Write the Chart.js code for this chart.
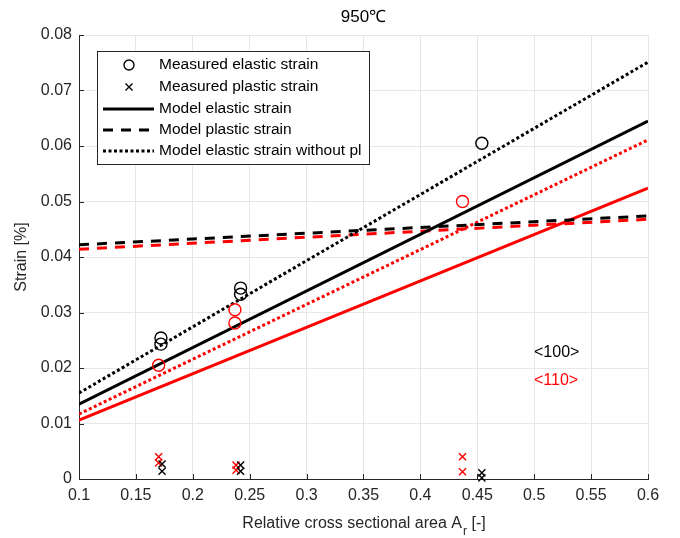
<!DOCTYPE html>
<html>
<head>
<meta charset="utf-8">
<script src="https://cdn.jsdelivr.net/npm/chart.js@4/dist/chart.umd.min.js"></script>
<style>
  body { margin: 0; background: #fff; }
  #chart { display: block; }
</style>
</head>
<body>
<canvas id="chart" width="680" height="538"></canvas>
<script>
// measured points, <100> orientation (black)
const elastic100 = [
    { x: 0.172, y: 0.0254 }, { x: 0.172, y: 0.0243 },
    { x: 0.242, y: 0.0344 }, { x: 0.242, y: 0.0333 },
    { x: 0.454, y: 0.0605 }
];
const plastic100 = [
    { x: 0.173, y: 0.0027 }, { x: 0.173, y: 0.0014 },
    { x: 0.242, y: 0.0025 }, { x: 0.242, y: 0.0014 },
    { x: 0.454, y: 0.0011 }, { x: 0.454, y: 0.0002 }
];

// measured points, <110> orientation (red)
const elastic110 = [
    { x: 0.170, y: 0.0205 },
    { x: 0.237, y: 0.0305 }, { x: 0.237, y: 0.0281 },
    { x: 0.437, y: 0.0500 }
];
const plastic110 = [
    { x: 0.170, y: 0.0040 }, { x: 0.170, y: 0.0029 },
    { x: 0.238, y: 0.0025 }, { x: 0.238, y: 0.0016 },
    { x: 0.437, y: 0.0040 }, { x: 0.437, y: 0.0013 }
];

// model lines, end points at Ar = 0.1 and 0.6
const modelX = [0.1, 0.6];
const modelElastic100 = [0.0135, 0.0645];
const modelPlastic100 = [0.0422, 0.0474];
const modelNoPl100 = [0.0155, 0.0751];
const modelElastic110 = [0.0106, 0.0524];
const modelPlastic110 = [0.0414, 0.0468];
const modelNoPl110 = [0.0117, 0.0611];

const xTicks = [0.1, 0.15, 0.2, 0.25, 0.3, 0.35, 0.4, 0.45, 0.5, 0.55, 0.6];
const yTicks = [0, 0.01, 0.02, 0.03, 0.04, 0.05, 0.06, 0.07, 0.08];

const legendLabels = ['Measured elastic strain', 'Measured plastic strain', 'Model elastic strain',
    'Model plastic strain', 'Model elastic strain without pl'];
const orientationLabels = ['<100>', '<110>'];

const RED = '#ff0000';
const BLACK = '#000000';
const FONT = '"Liberation Sans", Arial, sans-serif';

function toPoints(ys) {
    return modelX.map((x, i) => ({ x: x, y: ys[i] }));
}

function lineSet(ys, color, dash) {
    return {
        type: 'line',
        data: toPoints(ys),
        borderColor: color,
        borderWidth: 3,
        borderDash: dash,
        pointRadius: 0,
        fill: false,
        order: 2
    };
}

function markerSet(pts, color, style, r) {
    return {
        type: 'scatter',
        data: pts,
        borderColor: color,
        backgroundColor: 'rgba(0,0,0,0)',
        pointStyle: style,
        pointRadius: r,
        pointBorderWidth: 1.4,
        clip: false,
        order: 1
    };
}

// axis titles, main title, inward ticks, legend box and orientation labels
const decorations = {
    id: 'decorations',
    beforeDatasetsDraw(chart) {
        const { ctx, chartArea: a, scales } = chart;
        ctx.save();
        ctx.strokeStyle = '#262626';
        ctx.lineWidth = 1;
        ctx.beginPath();
        xTicks.forEach(v => {
            const px = Math.round(scales.x.getPixelForValue(v)) + 0.5;
            ctx.moveTo(px, a.bottom);
            ctx.lineTo(px, a.bottom - 5);
        });
        yTicks.forEach(v => {
            const py = Math.round(scales.y.getPixelForValue(v)) + 0.5;
            ctx.moveTo(a.left, py);
            ctx.lineTo(a.left + 5, py);
        });
        ctx.stroke();
        ctx.restore();
    },
    afterDraw(chart) {
        const { ctx, chartArea: a } = chart;
        ctx.save();
        ctx.fillStyle = '#000';

        // title
        ctx.font = '17px ' + FONT;
        ctx.textAlign = 'center';
        ctx.textBaseline = 'middle';
        ctx.fillText('950\u2103', (a.left + a.right) / 2, 17);

        // y title
        ctx.fillStyle = '#262626';
        ctx.save();
        ctx.translate(22, (a.top + a.bottom) / 2);
        ctx.rotate(-Math.PI / 2);
        ctx.font = '16px ' + FONT;
        ctx.fillText('Strain [%]', 0, 0);
        ctx.restore();

        // x title with subscript
        ctx.textBaseline = 'alphabetic';
        ctx.textAlign = 'left';
        const part1 = 'Relative cross sectional area A';
        const sub = 'r';
        const part2 = ' [-]';
        ctx.font = '16px ' + FONT;
        const w1 = ctx.measureText(part1).width;
        const w3 = ctx.measureText(part2).width;
        ctx.font = '12px ' + FONT;
        const w2 = ctx.measureText(sub).width;
        let x0 = (a.left + a.right) / 2 - (w1 + w2 + w3) / 2;
        ctx.font = '16px ' + FONT;
        ctx.fillText(part1, x0, 528);
        ctx.font = '12px ' + FONT;
        ctx.fillText(sub, x0 + w1 + 1, 535);
        ctx.font = '16px ' + FONT;
        ctx.fillText(part2, x0 + w1 + w2 + 1, 528);

        // legend
        const lx = 97, ly = 51, lw = 272, lh = 113;
        ctx.fillStyle = '#ffffff';
        ctx.fillRect(lx, ly, lw, lh);
        ctx.strokeStyle = '#262626';
        ctx.lineWidth = 1;
        ctx.strokeRect(lx + 0.5, ly + 0.5, lw, lh);

        const rows = [65, 87, 109, 130, 151];
        ctx.font = '15.5px ' + FONT;
        ctx.textBaseline = 'middle';
        ctx.fillStyle = '#000';
        legendLabels.forEach((t, i) => ctx.fillText(t, 159, rows[i]));

        ctx.strokeStyle = BLACK;
        ctx.lineWidth = 1.4;
        ctx.beginPath();
        ctx.arc(129, rows[0], 5, 0, Math.PI * 2);
        ctx.stroke();
        ctx.beginPath();
        ctx.moveTo(125.5, rows[1] - 3.5); ctx.lineTo(132.5, rows[1] + 3.5);
        ctx.moveTo(132.5, rows[1] - 3.5); ctx.lineTo(125.5, rows[1] + 3.5);
        ctx.stroke();

        ctx.lineWidth = 3;
        [[], [10, 8], [3, 2.5]].forEach((d, i) => {
            ctx.setLineDash(d);
            ctx.beginPath();
            ctx.moveTo(103, rows[i + 2]);
            ctx.lineTo(154, rows[i + 2]);
            ctx.stroke();
        });
        ctx.setLineDash([]);

        // orientation labels
        ctx.font = '16px ' + FONT;
        ctx.fillStyle = BLACK;
        ctx.fillText(orientationLabels[0], 534, 353);
        ctx.fillStyle = RED;
        ctx.fillText(orientationLabels[1], 534, 381);
        ctx.restore();
    }
};

const ctx = document.getElementById('chart').getContext('2d');
new Chart(ctx, {
    type: 'scatter',
    data: {
        datasets: [
            lineSet(modelElastic100, BLACK, []),
            lineSet(modelPlastic100, BLACK, [10, 8]),
            lineSet(modelNoPl100, BLACK, [3, 2.5]),
            lineSet(modelElastic110, RED, []),
            lineSet(modelPlastic110, RED, [10, 8]),
            lineSet(modelNoPl110, RED, [3, 2.5]),
            markerSet(elastic100, BLACK, 'circle', 6),
            markerSet(elastic110, RED, 'circle', 6),
            markerSet(plastic100, BLACK, 'crossRot', 5),
            markerSet(plastic110, RED, 'crossRot', 5)
        ]
    },
    options: {
        responsive: false,
        animation: false,
        layout: { padding: { top: 35, right: 32, left: 0, bottom: 0 } },
        plugins: {
            legend: { display: false },
            tooltip: { enabled: false }
        },
        scales: {
            x: {
                type: 'linear',
                min: 0.1,
                max: 0.6,
                afterBuildTicks: s => { s.ticks = xTicks.map(v => ({ value: v })); },
                afterFit: s => { s.height = 59; },
                ticks: {
                    color: '#262626',
                    font: { family: FONT, size: 16 },
                    padding: 7,
                    maxRotation: 0,
                    autoSkip: false,
                    callback: v => String(+v.toFixed(3))
                },
                grid: { color: '#e6e6e6', drawTicks: false },
                border: { color: '#262626', width: 1 }
            },
            y: {
                type: 'linear',
                min: 0,
                max: 0.08,
                afterBuildTicks: s => { s.ticks = yTicks.map(v => ({ value: v })); },
                afterFit: s => { s.width = 79; },
                ticks: {
                    color: '#262626',
                    font: { family: FONT, size: 16 },
                    padding: 7,
                    autoSkip: false,
                    callback: v => String(+v.toFixed(3))
                },
                grid: { color: '#e6e6e6', drawTicks: false },
                border: { color: '#262626', width: 1 }
            }
        }
    },
    plugins: [decorations]
});
</script>
</body>
</html>
